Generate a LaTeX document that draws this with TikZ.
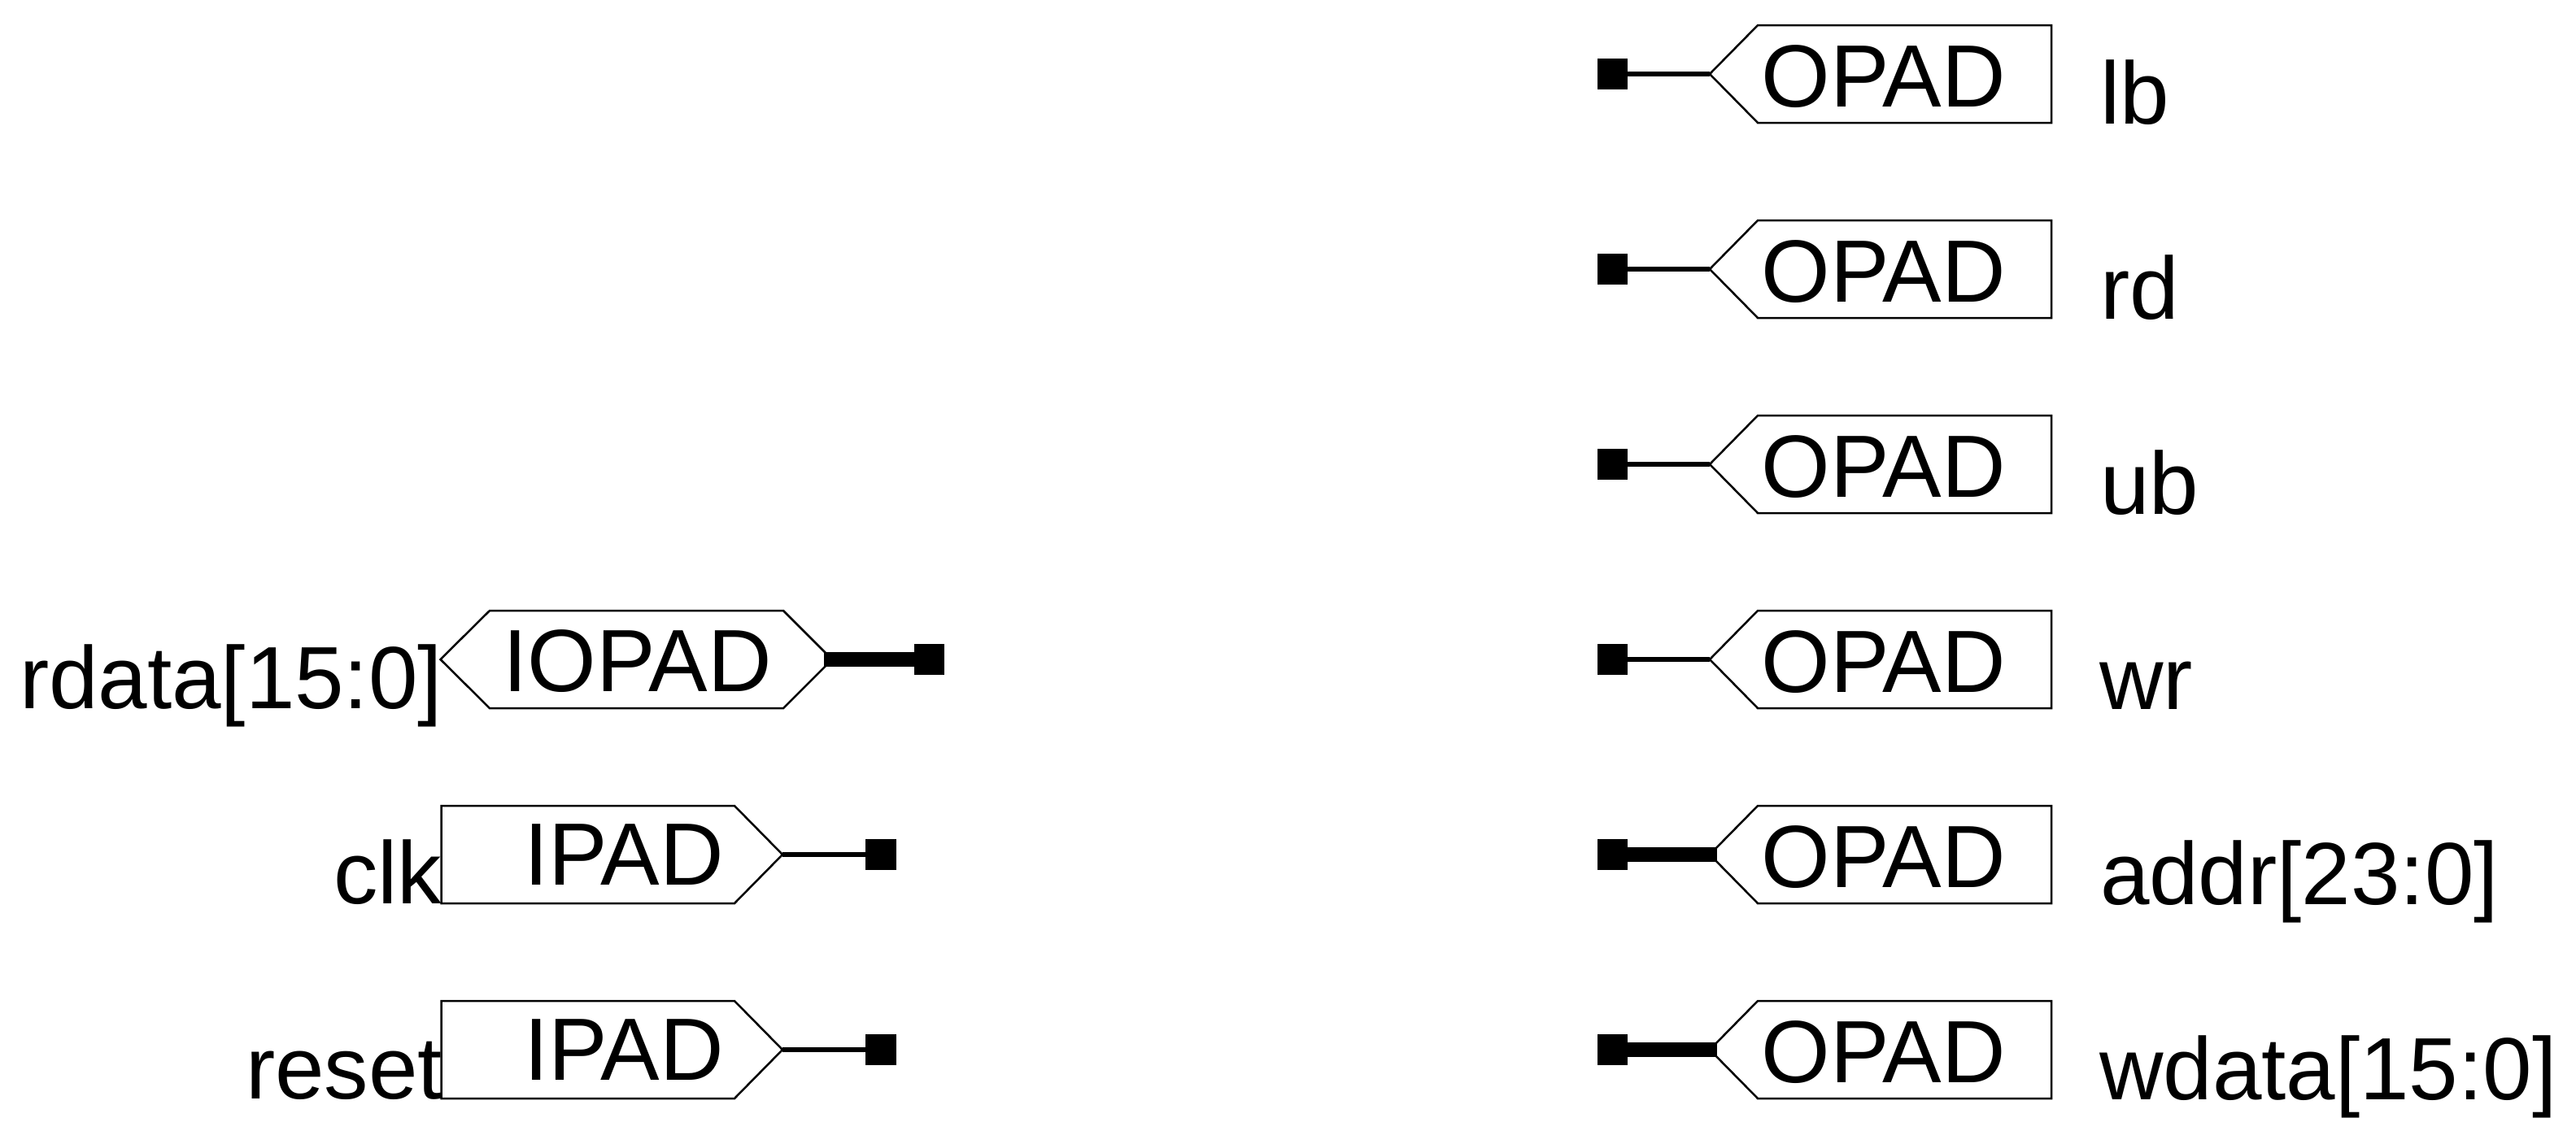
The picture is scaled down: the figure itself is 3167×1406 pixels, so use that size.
\documentclass[tikz,border=0pt]{standalone}
\usepackage{fontspec}
\setmainfont{Liberation Sans}
\tikzset{
  px/.style={x=0.24pt,y=-0.24pt},
  padbox/.style={draw=black,fill=white,line width=0.6pt,line join=miter},
  padtext/.style={anchor=base,inner sep=0pt,outer sep=0pt,font=\fontsize{26.1pt}{30pt}\selectfont},
  namelabel/.style={anchor=base west,inner sep=0pt,outer sep=0pt,font=\fontsize{26.1pt}{30pt}\selectfont},
  pin/.style={draw=none,fill=black,minimum width=8.9pt,minimum height=8.9pt,inner sep=0pt,outer sep=0pt},
  thinwire/.style={draw=black,line width=1.4pt},
  buswire/.style={draw=black,line width=4.3pt}
}
% #1 name, #2 centre y, #3 wire style, #4 wire end x, #5 label, #6 label origin x
\newcommand{\opadrow}[6]{
  \draw[padbox] (2102,#2) -- (2161,#2-60) -- (2522,#2-60) -- (2522,#2+60) -- (2161,#2+60) -- cycle;
  \node[padtext] (#1pad) at (2315.5,#2+40) {OPAD};
  \node[pin] (#1pin) at (1982.5,#2) {};
  \coordinate (#1end) at (#4,#2);
  \draw[#3] (#1pin.center) -- (#1end);
  \node[namelabel] (#1label) at (#6,#2+61) {#5};
}
\newcommand{\ipadrow}[4]{
  \draw[padbox] (542.5,#2-60) -- (903,#2-60) -- (962,#2) -- (903,#2+60) -- (542.5,#2+60) -- cycle;
  \node[padtext] (#1pad) at (767,#2+37) {IPAD};
  \node[pin] (#1pin) at (1083,#2) {};
  \coordinate (#1end) at (962,#2);
  \draw[thinwire] (#1end) -- (#1pin.center);
  \node[namelabel] (#1label) at (#4,#2+60) {#3};
}
\begin{document}
\begin{tikzpicture}[px]
\useasboundingbox (0,0) rectangle (3167,1406);
\opadrow{lb}{91}{thinwire}{2102}{lb}{2582}
\opadrow{rd}{331}{thinwire}{2102}{rd}{2582}
\opadrow{ub}{571}{thinwire}{2102}{ub}{2582}
\opadrow{wr}{811}{thinwire}{2102}{wr}{2581}
\opadrow{addr}{1051}{buswire}{2111}{addr[23:0]}{2582}
\opadrow{wdata}{1291}{buswire}{2111}{wdata[15:0]}{2581}
% IOPAD
\draw[padbox] (541.5,811) -- (602,751) -- (963,751) -- (1023,811) -- (963,871) -- (602,871) -- cycle;
\node[padtext] (rdatapad) at (783.5,850) {IOPAD};
\node[pin] (rdatapin) at (1142.5,811) {};
\coordinate (rdataend) at (1013,811);
\draw[buswire] (rdataend) -- (rdatapin.center);
\node[namelabel] (rdatalabel) at (24,871) {rdata[15:0]};
% IPAD
\ipadrow{clk}{1051}{clk}{410}
\ipadrow{reset}{1291}{reset}{302}
\end{tikzpicture}
\end{document}
